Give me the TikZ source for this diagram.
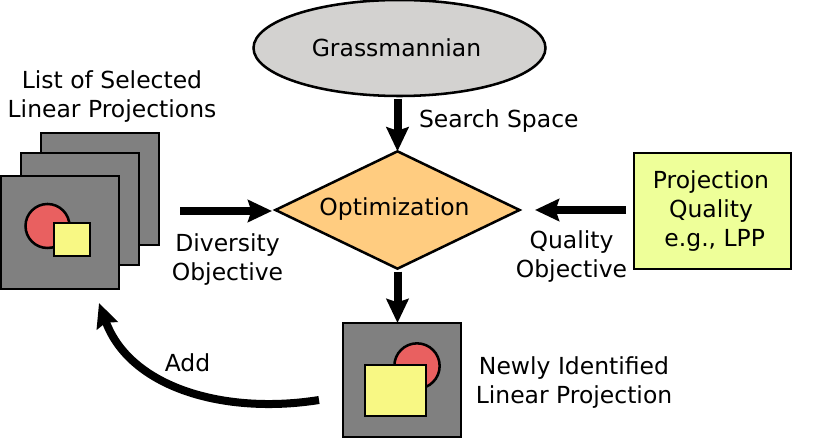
\documentclass[tikz,border=0pt]{standalone}
\usepackage{fontspec}
\setmainfont{DejaVu Sans}
\usetikzlibrary{shapes.geometric,arrows.meta}
\definecolor{panelgrey}{HTML}{808080}
\definecolor{spacegrey}{HTML}{D3D2D0}
\definecolor{optorange}{HTML}{FFCC80}
\definecolor{qualgreen}{HTML}{EEFF99}
\definecolor{discred}{HTML}{E96060}
\definecolor{boxyellow}{HTML}{F8F884}
\newcommand{\boxat}[5]{\node[#1,minimum width=#4*0.75pt,minimum height=#5*0.75pt] (#2) at (#3) {};}
\tikzset{
  x=0.75pt,y=-0.75pt,
  every node/.style={font=\fontsize{17.6}{21.75}\selectfont,inner sep=0pt,outer sep=0pt,align=center},
  outline/.style={draw=black,line width=1.9pt},
  panel/.style={outline,rectangle,fill=panelgrey},
  disc/.style={outline,circle,fill=discred},
  patch/.style={outline,rectangle,fill=boxyellow},
  flow/.style={line width=6pt,draw=black,-{Stealth[length=18pt,width=16.5pt,inset=2.5pt]}},
}
\begin{document}
\begin{tikzpicture}
\useasboundingbox (0,0) rectangle (822,438);

% Search space and objective
\node[outline,ellipse,fill=spacegrey,minimum width=219pt,minimum height=72pt] (grass) at (399.5,48) {};
\node (grasslbl) at (396.5,48) {Grassmannian};
\node[outline,diamond,fill=optorange,aspect=2.08,minimum width=183pt,minimum height=88pt] (opt) at (397.5,210) {};
\node (optlbl) at (394.5,209) {Optimization};

% Stack of selected projections
\boxat{panel}{backp}{100,189}{118}{112}
\boxat{panel}{midp}{80,209}{118}{112}
\boxat{panel}{frontp}{60,232.5}{118}{113}
\node[disc,minimum size=33pt] (frontc) at (47.5,226) {};
\boxat{patch}{fronts}{72,239.5}{36}{33}

% Newly identified projection
\boxat{panel}{newp}{402,380}{118}{114}
\node[disc,minimum size=34pt] (newc) at (417,366) {};
\boxat{patch}{news}{395.5,390.5}{61}{51}

% Quality box
\boxat{outline,rectangle,fill=qualgreen}{qual}{712.5,211}{157}{116}
\node (quallines) at (711,211.3) {Projection\\Quality\\\ e.g., LPP};

% Free labels
\node (listlbl) at (112,97) {List of Selected\\Linear Projections};
\node[anchor=west] (spacelbl) at (419,121.5) {Search Space};
\node (divlbl) at (227.5,259.5) {Diversity\\Objective};
\node (quallbl) at (571.5,256.5) {Quality\\Objective};
\node (addlbl) at (187.5,362.5) {Add};
\node (newlbl) at (574,382.5) {Newly Identified\\Linear Projection};

% Free ends of the connectors
\coordinate (divstart) at (180,211);
\coordinate (divend) at (272,211);
\coordinate (qualstart) at (626,210);
\coordinate (qualend) at (535,210);
\coordinate (addstart) at (319,400);
\coordinate (addend) at (99,303);

% Connectors
\draw[flow] (grass.south) ++(-2,3) -- (opt.north);
\draw[flow] (divstart) -- (divend);
\draw[flow] (qualstart) -- (qualend);
\draw[flow] (opt.south) ++(0,3) -- (newp.north -| opt.south);
\draw[flow] (addstart) .. controls (225,415) and (130,388) .. (addend);
\end{tikzpicture}
\end{document}
